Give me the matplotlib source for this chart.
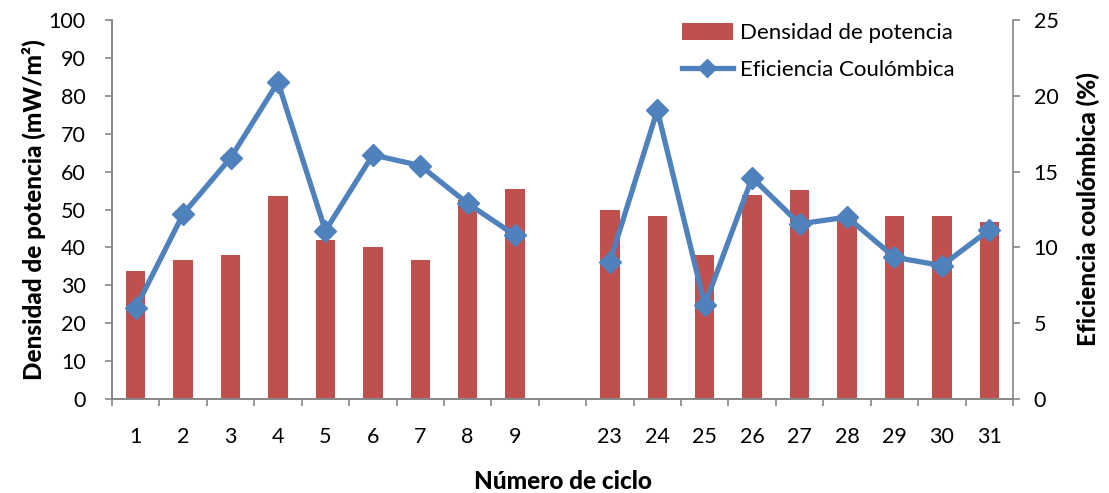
import numpy as np
import matplotlib.pyplot as plt
from matplotlib.lines import Line2D
from matplotlib.patches import Patch

plt.rcParams["font.family"] = ["Lato", "DejaVu Sans"]

# categories (blank slot between 9 and 23 as in the original)
CICLOS = ["1", "2", "3", "4", "5", "6", "7", "8", "9", "",
          "23", "24", "25", "26", "27", "28", "29", "30", "31"]
DENSIDAD = [33.9, 36.8, 37.9, 53.6, 42.0, 40.1, 36.8, 52.5, 55.5, np.nan,
            50.0, 48.3, 37.9, 53.7, 55.2, 48.3, 48.3, 48.3, 46.7]
EFICIENCIA = [6.0, 12.2, 15.9, 20.9, 11.1, 16.1, 15.4, 12.9, 10.8, np.nan,
              9.05, 19.05, 6.2, 14.6, 11.55, 12.0, 9.35, 8.8, 11.15]

RED = "#C0504D"
BLUE = "#4F81BD"
GRAY = "#868686"

fig = plt.figure(figsize=(11.09, 4.93), dpi=100)
ax = fig.add_axes([0.101, 0.1907, 0.8124, 0.7687])
ax2 = ax.twinx()

x = np.arange(len(CICLOS))
ax.bar(x, DENSIDAD, width=0.41, color=RED, zorder=2)
ax2.plot(x, EFICIENCIA, color=BLUE, linewidth=3.8, marker="D",
         markersize=11, zorder=3)

ax.set_xlim(-0.5, len(CICLOS) - 0.5)
ax.set_ylim(0, 100)
ax2.set_ylim(0, 25)
ax.set_yticks(np.arange(0, 101, 10))
ax2.set_yticks(np.arange(0, 26, 5))

# ticks at category boundaries, labels centered
ax.set_xticks(np.arange(-0.5, len(CICLOS), 1.0))
ax.set_xticklabels([])
ax.set_xticks(x, minor=True)
ax.set_xticklabels(CICLOS, minor=True)
ax.tick_params(axis="x", which="minor", length=0, pad=20, labelsize=15.5)
ax.tick_params(axis="x", which="major", length=5, color=GRAY, width=1.2)
ax.tick_params(axis="y", length=5, color=GRAY, width=1.2, labelsize=15.5, pad=14)
ax2.tick_params(axis="y", length=5, color=GRAY, width=1.2, labelsize=15.5, pad=10)

for a in (ax, ax2):
    a.spines["top"].set_visible(False)
    for s in ("left", "right", "bottom"):
        a.spines[s].set_color(GRAY)
        a.spines[s].set_linewidth(1.2)
ax.spines["right"].set_visible(False)

ax.set_ylabel("Densidad de potencia (mW/m²)", fontsize=17.5,
              fontweight="black", labelpad=2)
ax2.set_ylabel("Eficiencia coulómbica (%)", fontsize=17.5,
               fontweight="black", labelpad=13)
ax.set_xlabel("Número de ciclo", fontsize=17.5, fontweight="black", labelpad=17)

handles = [Patch(facecolor=RED),
           Line2D([], [], color=BLUE, linewidth=3.8, marker="D", markersize=9)]
ax2.legend(handles, ["Densidad de potencia", "Eficiencia Coulómbica"],
           loc="upper right", bbox_to_anchor=(0.957, 1.045), frameon=False,
           fontsize=16, handlelength=2.3, handleheight=0.8,
           labelspacing=0.75, handletextpad=0.3)

fig.savefig("out.png", dpi=100)
